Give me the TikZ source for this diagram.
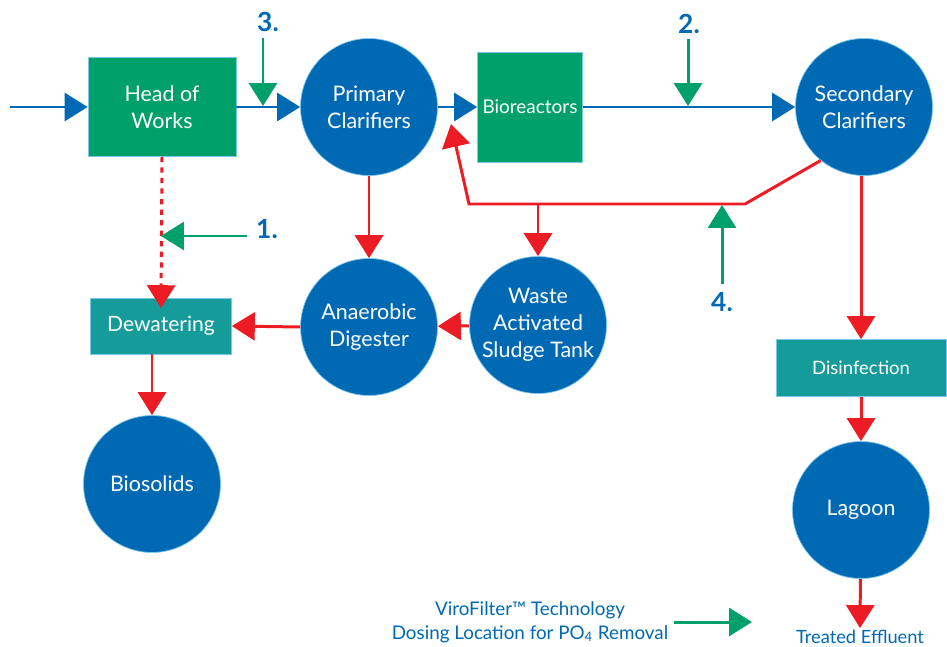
\documentclass[tikz,border=0pt]{standalone}
\usepackage{fontspec}
\setmainfont{Lato}
\usetikzlibrary{arrows.meta}
\definecolor{wblue}{HTML}{0069B4}
\definecolor{wgreen}{HTML}{00A06B}
\definecolor{wteal}{HTML}{169B9B}
\definecolor{wred}{HTML}{ED1C24}
\definecolor{wrim}{HTML}{7CC6EA}

\begin{document}
\begin{tikzpicture}[x=0.02cm, y=-0.02cm,
	tank/.style={ circle, draw=wrim, thin, fill=wblue, text=white, minimum size=2.74cm, inner sep=0pt, align=center, font=\fontsize{12.2}{15.3}\selectfont },
	unit/.style={ rectangle, draw=wrim, thin, fill=wgreen, text=white, inner sep=0pt, align=center, font=\fontsize{12.2}{15.3}\selectfont },
	stage/.style={ unit, fill=wteal },
	flow/.style={ wblue, line width=1.7pt, -{Triangle[length=0.46cm,width=0.56cm]} },
	sludge/.style={ flow, wred },
	dose/.style={ flow, wgreen },
	tag/.style={ wblue, font=\bfseries\fontsize{15}{17}\selectfont }
]
\useasboundingbox (0,0) rectangle (947,646);

\node at (162,107) (how) [unit, minimum width=2.96cm, minimum height=1.98cm] {Head of\\Works};
\node at (369,107) (pc) [tank] {Primary\\Clarifiers};
\node at (530,107) (bio) [unit, minimum width=2.1cm, minimum height=2.2cm, font=\fontsize{10.8}{13}\selectfont] {Bioreactors};
\node at (864,107) (sc) [tank] {Secondary\\Clarifiers};
\node at (369,327) (ad) [tank] {Anaerobic\\Digester};
\node at (538,325) (was) [tank] {Waste\\Activated\\Sludge Tank};
\node at (161,326) (dew) [stage, minimum width=2.82cm, minimum height=1.12cm, font=\fontsize{12}{14}\selectfont] {Dewatering};
\node at (152,484) (bs) [tank] {Biosolids};
\node at (861,368) (dis) [stage, minimum width=3.4cm, minimum height=1.14cm, font=\fontsize{10.5}{12}\selectfont] {Disinfection};
\node at (861,510) (lag) [tank] {Lagoon};
\node at (860,637) (eff) [wblue, inner sep=1pt, font=\fontsize{10.4}{12}\selectfont] {Treated Effluent};

\coordinate (in) at (10,107);
\draw[flow] (in) to (how);
\draw[flow] (how) to (pc);
\draw[flow] (pc) to (bio);
\draw[flow] (bio) to (sc);

\coordinate (r1) at (745,204);
\coordinate (r2) at (469,204);
\coordinate (r3) at (538,204);
\coordinate (ret) at (451,124);
\draw[sludge] (sc.231) to (r1) to (r2) to (ret);
\draw[sludge] (r3) to (was);
\draw[sludge] (pc) to (ad);
\draw[sludge] (was) to (ad);
\draw[sludge] (ad.west) to (dew.east);
\draw[sludge, dashed] (how.south) to ([yshift=-6]dew.north);
\draw[sludge] (bs |- dew.south) to (bs.north);
\draw[sludge] (dis |- sc.south) to (dis.north);
\draw[sludge] (dis) to (lag);
\draw[sludge] (lag) to (eff.north);

\coordinate (d1) at (247,236);
\coordinate (e1) at (161,236);
\draw[dose] (d1) to (e1);
\node at (267,229) (t1) [tag] {1.};
\coordinate (d3) at (263,38);
\coordinate (e3) at (263,106);
\draw[dose] (d3) to (e3);
\node at (268,22) (t3) [tag] {3.};
\coordinate (d2) at (688,39);
\coordinate (e2) at (688,106);
\draw[dose] (d2) to (e2);
\node at (689,24) (t2) [tag] {2.};
\coordinate (d4) at (722,284);
\coordinate (e4) at (722,205);
\draw[dose] (d4) to (e4);
\node at (722,302) (t4) [tag] {4.};

\node at (530,622) (key) [wblue, align=center, font=\fontsize{10.7}{13.5}\selectfont] {ViroFilter\texttrademark{} Technology\\Dosing Location for PO\textsubscript{4} Removal};
\coordinate (k1) at (674,622);
\coordinate (k2) at (752,622);
\draw[dose] (k1) to (k2);

\end{tikzpicture}
\end{document}
